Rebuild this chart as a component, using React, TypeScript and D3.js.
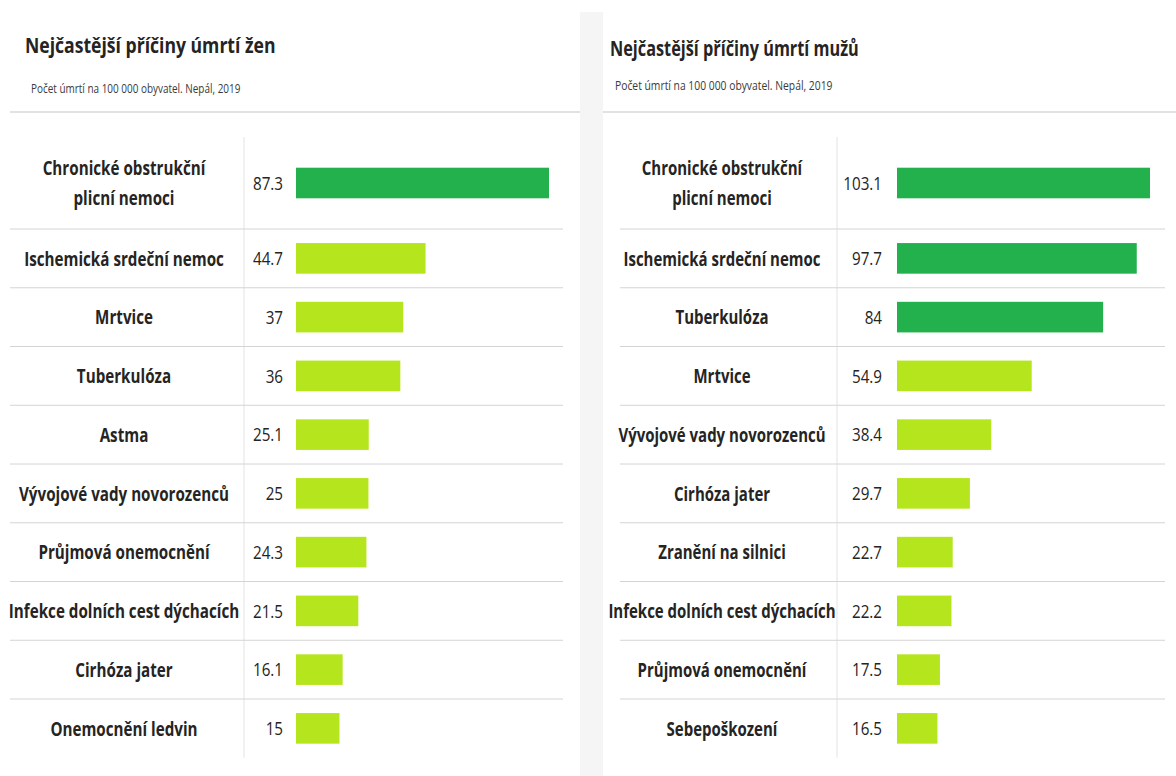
import React from "react";
import * as d3 from "d3";

const femaleCauses = [
  "Chronické obstrukční plicní nemoci",
  "Ischemická srdeční nemoc",
  "Mrtvice",
  "Tuberkulóza",
  "Astma",
  "Vývojové vady novorozenců",
  "Průjmová onemocnění",
  "Infekce dolních cest dýchacích",
  "Cirhóza jater",
  "Onemocnění ledvin",
];
const femaleValues = [87.3, 44.7, 37, 36, 25.1, 25, 24.3, 21.5, 16.1, 15];

const maleCauses = [
  "Chronické obstrukční plicní nemoci",
  "Ischemická srdeční nemoc",
  "Tuberkulóza",
  "Mrtvice",
  "Vývojové vady novorozenců",
  "Cirhóza jater",
  "Zranění na silnici",
  "Infekce dolních cest dýchacích",
  "Průjmová onemocnění",
  "Sebepoškození",
];
const maleValues = [103.1, 97.7, 84, 54.9, 38.4, 29.7, 22.7, 22.2, 17.5, 16.5];

const titles = ["Nejčastější příčiny úmrtí žen", "Nejčastější příčiny úmrtí mužů"];
const subtitle = "Počet úmrtí na 100 000 obyvatel. Nepál, 2019";
const HIGH_THRESHOLD = 60;

const DARK = "#22b14c";
const LIME = "#b5e61d";
const TEXT = "#252423";
const FONT = "'Open Sans', 'Noto Sans', sans-serif";

const W = 1176;
const H = 776;

const ROWS_TOP = 137;
const ROW_H = 58.75;
const EXTRA_LINE_H = 33.25;
const BAR_H = 30.6;
const BAR_W = 253;
const LINE_GAP = 30;

const SX_LABEL = 0.76;
const SX_VALUE = 0.8;

function wrapLabel(label: string): string[] {
  if (label.length <= 30) return [label];
  const words = label.split(" ");
  const k = Math.ceil(words.length / 2);
  return [words.slice(0, k).join(" "), words.slice(k).join(" ")];
}

type PanelCfg = {
  title: string;
  causes: string[];
  values: number[];
  titleX: number;
  titleY: number;
  titleSx: number;
  subX: number;
  subY: number;
  subSx: number;
  headerX: [number, number];
  rowX: [number, number];
  labelCx: number;
  labelSx: number;
  dividerX: number;
  valueRight: number;
  barX0: number;
};

function Panel({ cfg }: { cfg: PanelCfg }) {
  const x = d3
    .scaleLinear()
    .domain([0, d3.max(cfg.values) as number])
    .range([0, BAR_W]);

  const rows = cfg.causes.map((c, i) => ({ lines: wrapLabel(c), value: cfg.values[i] }));
  let acc = ROWS_TOP;
  const layout = rows.map((r) => {
    const h = ROW_H + (r.lines.length - 1) * EXTRA_LINE_H;
    const top = acc;
    acc += h;
    return { ...r, top, h, cy: top + h / 2 };
  });
  const bottom = acc;

  return (
    <g>
      <text
        transform={`translate(${cfg.titleX},${cfg.titleY}) scale(${cfg.titleSx},1)`}
        fontFamily={FONT}
        fontWeight={700}
        fontSize={22}
        fill={TEXT}
      >
        {cfg.title}
      </text>
      <text
        transform={`translate(${cfg.subX},${cfg.subY}) scale(${cfg.subSx},1)`}
        fontFamily={FONT}
        fontSize={13}
        fill="#3b3a39"
      >
        {subtitle}
      </text>
      <line x1={cfg.headerX[0]} x2={cfg.headerX[1]} y1={112} y2={112} stroke="#d9d9d9" strokeWidth={1.5} />
      <line x1={cfg.dividerX} x2={cfg.dividerX} y1={ROWS_TOP} y2={bottom} stroke="#e3e3e3" strokeWidth={1} />
      {layout.map((r, i) => (
        <g key={i}>
          {i < layout.length - 1 && (
            <line
              x1={cfg.rowX[0]}
              x2={cfg.rowX[1]}
              y1={r.top + r.h}
              y2={r.top + r.h}
              stroke="#d4d4d4"
              strokeWidth={1}
            />
          )}
          {r.lines.map((ln, j) => (
            <text
              key={j}
              transform={`translate(${cfg.labelCx},${
                r.cy + (j - (r.lines.length - 1) / 2) * LINE_GAP
              }) scale(${cfg.labelSx},1)`}
              textAnchor="middle"
              dy="0.36em"
              fontFamily={FONT}
              fontWeight={700}
              fontSize={20}
              fill={TEXT}
            >
              {ln}
            </text>
          ))}
          <text
            transform={`translate(${cfg.valueRight},${r.cy}) scale(${SX_VALUE},1)`}
            textAnchor="end"
            dy="0.36em"
            fontFamily={FONT}
            fontSize={19}
            fill={TEXT}
          >
            {String(r.value)}
          </text>
          <rect
            x={cfg.barX0}
            y={r.cy - BAR_H / 2}
            width={x(r.value)}
            height={BAR_H}
            fill={r.value > HIGH_THRESHOLD ? DARK : LIME}
          />
        </g>
      ))}
    </g>
  );
}

const panels: PanelCfg[] = [
  {
    title: titles[0],
    causes: femaleCauses,
    values: femaleValues,
    titleX: 25,
    titleY: 52.5,
    titleSx: 0.8,
    subX: 31,
    subY: 92.5,
    subSx: 0.766,
    headerX: [10, 580],
    rowX: [10, 563],
    labelCx: 124,
    labelSx: SX_LABEL,
    dividerX: 244,
    valueRight: 283,
    barX0: 296,
  },
  {
    title: titles[1],
    causes: maleCauses,
    values: maleValues,
    titleX: 610,
    titleY: 55.5,
    titleSx: 0.74,
    subX: 615,
    subY: 90,
    subSx: 0.795,
    headerX: [603, 1176],
    rowX: [620, 1165],
    labelCx: 722,
    labelSx: 0.75,
    dividerX: 837,
    valueRight: 882,
    barX0: 897,
  },
];

export default function App() {
  return (
    <svg
      width={W}
      height={H}
      style={{ position: "absolute", left: 0, top: 0, display: "block", background: "#ffffff" }}
    >
      <rect x={0} y={0} width={W} height={H} fill="#ffffff" />
      <rect x={580} y={12} width={23} height={H - 12} fill="#f5f5f5" />
      {panels.map((p, i) => (
        <Panel key={i} cfg={p} />
      ))}
    </svg>
  );
}
